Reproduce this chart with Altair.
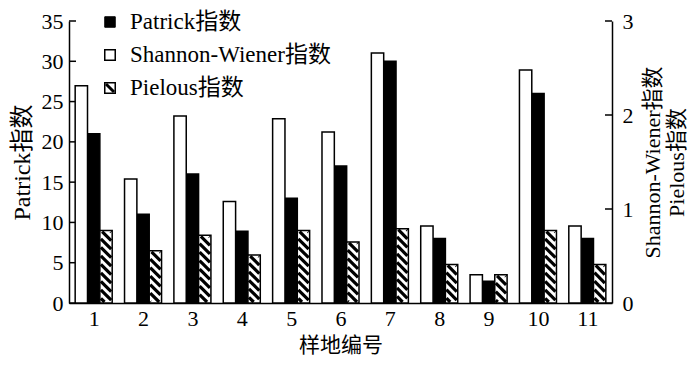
import altair as alt
import pandas as pd

# ---- data ----
sites = list(range(1, 12))
patrick = [21, 11, 16, 8.9, 13, 17, 30, 8, 2.7, 26, 8]
shannon = [2.31, 1.32, 1.99, 1.08, 1.96, 1.82, 2.66, 0.82, 0.30, 2.48, 0.82]
pielou = [0.77, 0.555, 0.72, 0.51, 0.77, 0.65, 0.79, 0.41, 0.30, 0.77, 0.41]
series_names = ["Patrick指数", "Shannon-Wiener指数", "Pielous指数"]
left_ticks = [0, 5, 10, 15, 20, 25, 30, 35]
right_ticks = [0, 1, 2, 3]

# ---- layout / style ----
W, H = 543, 282
PAD = {"left": 61, "top": 13, "right": 80, "bottom": 55}
FONT = "Times New Roman, Liberation Serif, Noto Sans CJK SC"
BW = 0.25                 # bar width in x units
PXU = W / 11.0            # px per x unit
PYU = H / 3.0             # px per right-axis unit
BW_PX = BW * PXU
STEP = 8.5                # hatch spacing (px, vertical)
INSET = 1.0
SW = 1.5
TICK_LEN = 7

df = pd.DataFrame({"site": sites, "patrick": patrick, "shannon": shannon, "pielou": pielou})
hatch_df = df.merge(pd.DataFrame({"k": list(range(45))}), how="cross")

common = dict(domainWidth=SW, domainColor="black", grid=False, ticks=False, tickSize=0,
              labelFont=FONT, titleFont=FONT, labelColor="black", titleColor="black",
              titleFontWeight="normal", labelFontSize=22)
xscale = alt.Scale(domain=[0.5, 11.5], nice=False, zero=False)
xaxis = alt.Axis(values=sites, title="样地编号", format="d", titleFontSize=21,
                 labelPadding=5, titlePadding=5, **common)
lscale = alt.Scale(domain=[0, 35], nice=False)
laxis = alt.Axis(orient="left", values=left_ticks, title="Patrick指数", titleFontSize=24,
                 labelPadding=6, titlePadding=7, **common)
rscale = alt.Scale(domain=[0, 3], nice=False)
raxis = alt.Axis(orient="right", values=right_ticks, title=["Shannon-Wiener指数", "Pielous指数"],
                 titleAngle=270, titleFontSize=22, titleLineHeight=24,
                 labelPadding=10, titlePadding=7, **common)

base = alt.Chart(df)

patrick_bars = base.transform_calculate(
    x0="datum.site - 0.125", x1="datum.site + 0.125"
).mark_bar(fill="black", stroke="black", strokeWidth=SW).encode(
    x=alt.X("x0:Q", scale=xscale, axis=xaxis), x2="x1:Q",
    y=alt.Y("patrick:Q", scale=lscale, axis=laxis), y2=alt.datum(0),
)

left_ticks_marks = alt.Chart(pd.DataFrame({"v": left_ticks})).mark_tick(
    orient="horizontal", size=TICK_LEN, thickness=SW, color="black", opacity=1
).encode(x=alt.value(TICK_LEN / 2), y=alt.Y("v:Q", scale=lscale, axis=laxis))

# legend
leg_x_sym, leg_x_txt = 41, 61
leg_y = [1, 34, 67]
leg_df = [pd.DataFrame({"name": [n]}) for n in series_names]
legend_layers = []
for i, d in enumerate(leg_df):
    legend_layers.append(
        alt.Chart(d).mark_text(align="left", baseline="middle", font=FONT, fontSize=23, color="black")
        .encode(text="name:N", x=alt.value(leg_x_txt), y=alt.value(leg_y[i]))
    )
legend_layers.append(alt.Chart(leg_df[0]).mark_square(size=110, fill="black", stroke="black", strokeWidth=1, opacity=1)
                     .encode(x=alt.value(leg_x_sym), y=alt.value(leg_y[0])))
legend_layers.append(alt.Chart(leg_df[1]).mark_square(size=110, fill="white", stroke="black", strokeWidth=SW, opacity=1)
                     .encode(x=alt.value(leg_x_sym), y=alt.value(leg_y[1])))
legend_layers.append(alt.Chart(leg_df[2]).mark_square(size=110, fill="white", stroke="black", strokeWidth=SW, opacity=1)
                     .encode(x=alt.value(leg_x_sym), y=alt.value(leg_y[2])))
legend_layers.append(alt.Chart(leg_df[2]).mark_rule(stroke="black", strokeWidth=3)
                     .encode(x=alt.value(leg_x_sym - 4), x2=alt.value(leg_x_sym + 4),
                             y=alt.value(leg_y[2] - 4), y2=alt.value(leg_y[2] + 4)))

left = alt.layer(patrick_bars, left_ticks_marks, *legend_layers)

shannon_bars = base.transform_calculate(
    x0="datum.site - 0.375", x1="datum.site - 0.125"
).mark_bar(fill="white", stroke="black", strokeWidth=SW).encode(
    x=alt.X("x0:Q", scale=xscale, axis=xaxis), x2="x1:Q",
    y=alt.Y("shannon:Q", scale=rscale, axis=raxis), y2=alt.datum(0),
)

pielou_fill = base.transform_calculate(
    x0="datum.site + 0.125", x1="datum.site + 0.375"
).mark_bar(fill="white", strokeWidth=0).encode(
    x=alt.X("x0:Q", scale=xscale, axis=xaxis), x2="x1:Q",
    y=alt.Y("pielou:Q", scale=rscale, axis=raxis), y2=alt.datum(0),
)

hatch = alt.Chart(hatch_df).transform_calculate(
    hb=f"datum.pielou * {PYU}",
    c=f"-{BW_PX} + (datum.k + 0.3) * {STEP}",
).transform_calculate(
    u0=f"max({INSET}, {INSET} - datum.c)",
    u1=f"min({BW_PX} - {INSET}, datum.hb - {INSET} - datum.c)",
).transform_filter("datum.u1 > datum.u0 + 0.3").transform_calculate(
    hx=f"datum.site + 0.125 + datum.u0 / {PXU}",
    hx2=f"datum.site + 0.125 + datum.u1 / {PXU}",
    hy=f"datum.pielou - (datum.u0 + datum.c) / {PYU}",
    hy2=f"datum.pielou - (datum.u1 + datum.c) / {PYU}",
).mark_rule(stroke="black", strokeWidth=3.2).encode(
    x=alt.X("hx:Q", scale=xscale, axis=xaxis), x2="hx2:Q",
    y=alt.Y("hy:Q", scale=rscale, axis=raxis), y2="hy2:Q",
)

pielou_outline = base.transform_calculate(
    x0="datum.site + 0.125", x1="datum.site + 0.375"
).mark_bar(fill="transparent", stroke="black", strokeWidth=SW).encode(
    x=alt.X("x0:Q", scale=xscale, axis=xaxis), x2="x1:Q",
    y=alt.Y("pielou:Q", scale=rscale, axis=raxis), y2=alt.datum(0),
)

right_ticks_marks = alt.Chart(pd.DataFrame({"v": right_ticks})).mark_tick(
    orient="horizontal", size=TICK_LEN, thickness=SW, color="black", opacity=1
).encode(x=alt.value(W - TICK_LEN / 2), y=alt.Y("v:Q", scale=rscale, axis=raxis))

right = alt.layer(shannon_bars, pielou_fill, hatch, pielou_outline, right_ticks_marks)

chart = alt.layer(left, right).resolve_scale(y="independent").properties(
    width=W, height=H, autosize=alt.AutoSizeParams(type="none"), padding=PAD
).configure_view(stroke=None)

chart.save("out.html", embed_options={"renderer": "svg", "actions": False})
